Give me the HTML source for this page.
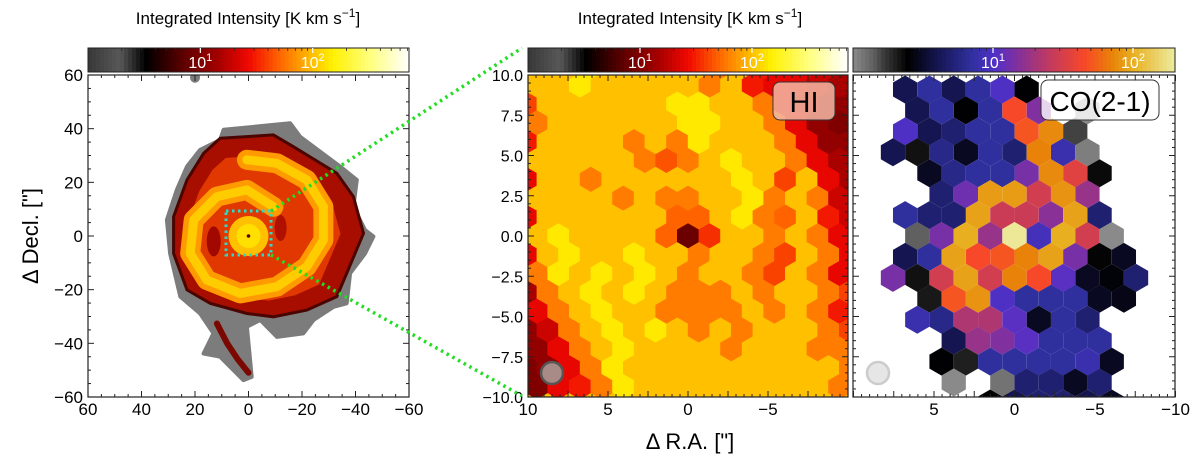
<!DOCTYPE html>
<html><head><meta charset="utf-8"><title>Integrated intensity maps</title>
<style>
html,body{margin:0;padding:0;background:#fff;}
svg{display:block;font-family:"Liberation Sans","DejaVu Sans",sans-serif;}
</style></head>
<body>
<svg id="fig" width="1200" height="464" viewBox="0 0 1200 464" xmlns="http://www.w3.org/2000/svg">
<defs>
<clipPath id="clipL"><rect x="88" y="75" width="321" height="322"/></clipPath>
<clipPath id="clipM"><rect x="528" y="75" width="320" height="322"/></clipPath>
<clipPath id="clipR"><rect x="853" y="75" width="322" height="322"/></clipPath>
</defs>
<text x="248" y="24" font-size="17" text-anchor="middle">Integrated Intensity [K km s<tspan dy="-7" font-size="12">−1</tspan><tspan dy="7">]</tspan></text>
<text x="690" y="24" font-size="17" text-anchor="middle">Integrated Intensity [K km s<tspan dy="-7" font-size="12">−1</tspan><tspan dy="7">]</tspan></text>
<g id="cbars"></g>
<rect x="528" y="75" width="320" height="322" fill="#ffc000"/>
<g id="left" clip-path="url(#clipL)"></g>
<g id="mid" clip-path="url(#clipM)"></g>
<g id="right" clip-path="url(#clipR)"></g>
<g id="axes"></g>
<text transform="translate(38,236) rotate(-90)" font-size="22" text-anchor="middle">Δ Decl. ["]</text>
<text x="690" y="449" font-size="22" text-anchor="middle">Δ R.A. ["]</text>
<rect x="773" y="82" width="62" height="38" rx="7" fill="#f2b8a4" fill-opacity="0.85" stroke="#333" stroke-width="1"/>
<text x="804" y="112" font-size="29" text-anchor="middle">HI</text>
<rect x="1041" y="80" width="118" height="40" rx="7" fill="#fff" fill-opacity="0.8" stroke="#333" stroke-width="1"/>
<text x="1100" y="111" font-size="28" text-anchor="middle">CO(2-1)</text>
<circle cx="552" cy="373" r="11" fill="#a88a86" stroke="#555" stroke-width="2.5"/>
<circle cx="878" cy="373" r="11" fill="#e6e6e6" stroke="#ccc" stroke-width="2.5"/>
<rect x="226" y="211" width="45" height="44" fill="none" stroke="#30d8c8" stroke-width="3" stroke-dasharray="2.5,3.5"/>
<line x1="271" y1="211" x2="522" y2="48" stroke="#22dd22" stroke-width="3.5" stroke-dasharray="2.5,4"/>
<line x1="271" y1="255" x2="522" y2="396" stroke="#22dd22" stroke-width="3.5" stroke-dasharray="2.5,4"/>
</svg>
<script>
// ---------- data ----------
// HI hex grid: rows top->bottom, cols left->right (K km/s)
const hiRows = [
[100,100,100,140,100,100,100,100,100,60,100,30,25,25,20,15,15],
[40,100,100,100,100,100,100,140,140,100,100,60,25,20,12,12,12],
[25,60,100,100,100,100,100,100,140,140,100,100,60,25,12,10,10],
[30,100,100,100,100,60,100,60,140,100,100,100,60,25,12,12,12],
[25,100,100,100,100,100,60,45,60,100,140,100,100,60,25,15,15],
[25,100,100,60,100,100,100,100,100,100,140,100,40,100,25,15,15],
[35,100,100,100,100,60,100,60,60,100,100,140,60,100,60,20,20],
[25,100,100,100,100,100,100,50,50,100,140,60,50,100,30,20,20],
[25,100,140,100,100,100,100,50,8,35,100,100,60,100,60,25,25],
[25,100,140,100,100,140,100,100,60,100,100,60,40,100,60,25,25],
[35,60,140,100,140,100,140,100,60,100,100,60,40,100,60,25,25],
[15,60,100,140,100,140,100,60,60,60,100,60,100,100,60,40,40],
[12,25,60,100,140,100,100,60,60,60,60,100,60,100,60,30,30],
[12,20,60,100,140,100,140,100,60,100,60,100,100,100,60,40,40],
[10,12,25,60,100,140,100,100,100,100,60,100,100,100,60,60,60],
[10,12,25,60,140,100,100,100,100,100,100,100,100,100,100,60,60],
[8,10,25,30,60,140,100,100,100,100,100,100,100,100,100,60,60]
];
// CO(2-1) hex grid rows m=-7..8 (0 = no data)
const coRows = [
[0,4,7,4,7,10,2.5,0,0,0,0,0],
[0,4,7,2.5,7,45,15,0,1,0,0,0],
[0,10,4,5,7,7,50,75,1.6,0,0,0],
[4,2.2,6,3,7,5,70,8,1.1,0,0,0],
[0,0,3,6,7,7,14,75,35,2.3,0,0],
[0,0,5,13,85,85,30,80,18,0,0,0],
[0,7,5,5,90,28,28,16,90,5,0,0],
[0,1.4,14,100,18,190,9,100,30,1,0,0],
[0,4,7,90,45,50,70,90,14,2.4,3,0],
[14,2.2,30,90,30,70,45,11,3,2.6,5,0],
[0,0,2.1,50,80,10,7,7,7,3,2.8,0],
[0,8,6,22,22,11,3,7,5,0,0,0],
[0,0,0,4,18,15,11,7,7,7,0,0],
[0,0,2.5,2,7,7,7,7,8,3,0,0],
[0,0,0,1,0,1.2,5,5,3,5,0,0],
[0,0,0,0,2.5,4,5,5,4,3,0,0]
];
// left map outlines (data coords, arcsec)
const outerX = [9.3,-9.3,-15.6,-19.3,-34.2,-40.5,-39.2,-43.6,-46.7,-43.6,-38,-36.7,-31.8,-24.3,-20.5,-10.6,-4.4,0.6,-1.2,1.9,10.6,16.8,13.1,18.1,25.5,29.3,30.5,26.8,23,18.1,10.6];
const outerY = [39.6,41.4,42,37,25.9,20.9,10.9,2.2,-0.2,-6.5,-13.9,-25.1,-26.4,-31.3,-36.3,-37.6,-31.3,-33.8,-52.5,-53.7,-45,-43.8,-36.3,-28.9,-22.6,-6.5,6,17.2,25.9,32.1,35.8];
const bodyX = [10.6,-9.3,-16.8,-33,-39.2,-43,-36.7,-33,-21.8,-9.3,0.6,14.3,23,28,28,23,16.8];
const bodyY = [36.4,37.7,33.3,23.4,14.7,1,-13.9,-22.6,-27.6,-30.1,-28.9,-25.1,-20.1,-6.5,7.2,20.9,30.8];
const armX = [-9.3,0.6,11.8,20.5,21.8,15.6,3.1,-10.6,-21.8,-28,-28,-21.8,-10.6,0.6];
const armY = [10.9,17.2,14.7,6,-6.5,-16.4,-21.4,-18.9,-11.4,-1.5,10.9,20.9,27.1,28.4];
const tailX = [11.8,8,4,0];
const tailY = [-32.6,-40,-46,-51];
const hiCbTicks = ["10","10"], hiCbExp = ["1","2"], hiCbVals = [10,100];
const coCbTicks = ["10","10"], coCbExp = ["1","2"], coCbVals = [10,100];
const leftTicks = [60,40,20,0,-20,-40,-60];
const midYTicks = [10,7.5,5,2.5,0,-2.5,-5,-7.5,-10];
const midXTicks = [10,5,0,-5];
const rightXTicks = [5,0,-5,-10];

// ---------- helpers ----------
const NS="http://www.w3.org/2000/svg";
function mk(tag,parent,attrs){const e=document.createElementNS(NS,tag);for(const k in attrs)e.setAttribute(k,attrs[k]);parent.appendChild(e);return e;}
function hex2rgb(h){return [parseInt(h.substr(1,2),16),parseInt(h.substr(3,2),16),parseInt(h.substr(5,2),16)];}
function cmap(stops,f){f=Math.max(0,Math.min(1,f));for(let i=1;i<stops.length;i++){if(f<=stops[i][0]){const a=stops[i-1],b=stops[i];const t=(f-a[0])/(b[0]-a[0]);const ca=hex2rgb(a[1]),cb=hex2rgb(b[1]);return "rgb("+ca.map((v,j)=>Math.round(v+(cb[j]-v)*t)).join(",")+")";}}return stops[stops.length-1][1];}
const hotStops=[[0,"#383838"],[0.1,"#585858"],[0.18,"#000000"],[0.3,"#600000"],[0.4,"#a00000"],[0.5,"#f00800"],[0.6,"#ff6800"],[0.7,"#ffc000"],[0.76,"#fff000"],[0.88,"#ffff80"],[1,"#ffffff"]];
const coStops=[[0,"#8a8a8a"],[0.064,"#606060"],[0.09,"#404040"],[0.17,"#000000"],[0.26,"#151550"],[0.37,"#3030a0"],[0.44,"#5030c8"],[0.51,"#8030a0"],[0.61,"#c03a60"],[0.72,"#f84828"],[0.8,"#e88008"],[0.87,"#e8b020"],[1,"#ececa0"]];
const hotMax=Math.log10(720), coMax=2.3;
const hotColor=v=>cmap(hotStops,Math.log10(v)/hotMax);
const coColor=v=>cmap(coStops,Math.log10(v)/coMax);
function hexPts(cx,cy,r){let p=[];for(let i=0;i<6;i++){const a=Math.PI/180*(60*i-90);p.push((cx+r*Math.cos(a)).toFixed(2)+","+(cy+r*Math.sin(a)).toFixed(2));}return p.join(" ");}

// axis scales
const lx=x=>248.5-x*2.675, ly=y=>236-y*2.683;
const mx=x=>528+(10-x)*16, my=y=>75+(10-y)*16.1;
const rx=x=>853.5+(10-x)*16.1, ry=y=>75+(10-y)*16.1;

// ---------- colorbars ----------
const cb=document.getElementById('cbars');
function colorbar(x0,w,stops,vals,tk,ex,maxLog,name){
  const g=mk('g',cb,{});
  
  
  const n=80;
  for(let i=0;i<n;i++){mk('rect',g,{x:x0+i*w/n,y:48,width:w/n+0.6,height:24,fill:cmap(stops,(i+0.5)/n)});}
  mk('rect',g,{x:x0,y:48,width:w,height:24,fill:'none',stroke:'#222','stroke-width':1});
  vals.forEach((v,i)=>{const px=x0+w*Math.log10(v)/maxLog;
    mk('line',g,{x1:px,x2:px,y1:48,y2:53,stroke:'#fff','stroke-width':1.2});
    const t=mk('text',g,{x:px,y:68,'font-size':16,fill:'#fff','text-anchor':'middle'});
    
    
    t.textContent=tk[i];const s=mk('tspan',t,{dy:-7,'font-size':11});s.textContent=ex[i];});
  for(let d=0;d<=Math.floor(maxLog);d++){for(let k=2;k<10;k++){const lv=d+Math.log10(k);if(lv>maxLog)break;const px=x0+w*lv/maxLog;mk('line',g,{x1:px,x2:px,y1:48,y2:51,stroke:'#222','stroke-width':0.8});}}
}
colorbar(88,321,hotStops,hiCbVals,hiCbTicks,hiCbExp,hotMax,'left-colorbar');
colorbar(528,320,hotStops,hiCbVals,hiCbTicks,hiCbExp,hotMax,'hi-colorbar');
colorbar(853,322,coStops,coCbVals,coCbTicks,coCbExp,coMax,'co-colorbar');

// ---------- left map ----------
const L=document.getElementById('left');
const pts=(xs,ys)=>xs.map((x,i)=>lx(x).toFixed(1)+","+ly(ys[i]).toFixed(1)).join(" ");
const outer=mk('polygon',L,{points:pts(outerX,outerY),fill:'#7c7c7c',stroke:'#7c7c7c','stroke-width':4,'stroke-linejoin':'round'});


mk('circle',L,{cx:lx(20),cy:ly(59),r:5,fill:'#7c7c7c'});
const tail=mk('polyline',L,{points:pts(tailX,tailY),fill:'none',stroke:'#7a0800','stroke-width':6,'stroke-linecap':'round'});


const body=mk('polygon',L,{points:pts(bodyX,bodyY),fill:'#a80e00',stroke:'#4a0500','stroke-width':3});


const inner=mk('polygon',L,{points:bodyX.map((x,i)=>lx(x*0.8).toFixed(1)+","+ly(bodyY[i]*0.8).toFixed(1)).join(" "),fill:'#e03800'});


const arm=mk('polyline',L,{points:pts(armX,armY),fill:'none',stroke:'#ff9a00','stroke-width':20,'stroke-linejoin':'round','stroke-linecap':'round'});


mk('polyline',L,{points:pts(armX,armY),fill:'none',stroke:'#ffcc00','stroke-width':9,'stroke-linejoin':'round','stroke-linecap':'round'});
mk('ellipse',L,{cx:lx(13),cy:ly(-2),rx:7,ry:15,fill:'#a00800'});
mk('ellipse',L,{cx:lx(-12),cy:ly(3),rx:6,ry:13,fill:'#b01000'});
const core=mk('circle',L,{cx:lx(0),cy:ly(0),r:20,fill:'#ffc000'});


mk('circle',L,{cx:lx(0),cy:ly(0),r:12,fill:'#ffe000'});
mk('circle',L,{cx:lx(0),cy:ly(0),r:1.8,fill:'#600000'});

// ---------- HI hex map ----------
const M=document.getElementById('mid');
const hiDx=1.35, hiDy=1.17;
hiRows.forEach((row,k)=>{row.forEach((v,j)=>{
  const x=(8-j)*hiDx-((k%2)?hiDx/2:0), y=(8-k)*hiDy;
  const h=mk('polygon',M,{points:hexPts(mx(x),my(y),12.7),fill:hotColor(v)});
  
  
});});
hiRows[0].forEach((v,j)=>{const x=(8-j)*hiDx-hiDx/2,y=9*hiDy;
  const h=mk('polygon',M,{points:hexPts(mx(x),my(y),12.7),fill:hotColor(v)});
  
  });

// ---------- CO hex map ----------
const R=document.getElementById('right');
const coDx=1.51, coDy=1.30;
coRows.forEach((row,k)=>{const m=k-7;const odd=Math.abs(m)%2===1;
  row.forEach((v,i)=>{if(!v)return;
    const n=odd?(i-6+0.5):(i-5);
    const x=-n*coDx, y=-m*coDy;
    const h=mk('polygon',R,{points:hexPts(rx(x),ry(y),14),fill:coColor(v)});
    
    
});});

// ---------- axes ----------
const A=document.getElementById('axes');
function frame(x0,y0,w,h,name){const r=mk('rect',A,{x:x0,y:y0,width:w,height:h,fill:'none',stroke:'#222','stroke-width':1.2});
  }
function ticks(sx,sy,x0,x1,y0,y1,minStep,majStep,range){
  for(let v=-range;v<=range+1e-9;v+=minStep){
    const maj=Math.abs(v/majStep-Math.round(v/majStep))<1e-6;const L1=maj?6:3;
    const px=sx(v),py=sy(v);
    if(px>=x0-0.5&&px<=x1+0.5){mk('line',A,{x1:px,x2:px,y1:y1,y2:y1-L1,stroke:'#222','stroke-width':1});mk('line',A,{x1:px,x2:px,y1:y0,y2:y0+L1,stroke:'#222','stroke-width':1});}
    if(py>=y0-0.5&&py<=y1+0.5){mk('line',A,{x1:x0,x2:x0+L1,y1:py,y2:py,stroke:'#222','stroke-width':1});mk('line',A,{x1:x1,x2:x1-L1,y1:py,y2:py,stroke:'#222','stroke-width':1});}
  }
}
const fmt=v=>(v<0?"−":"")+Math.abs(v);
frame(88,75,321,322,'left-axes');frame(528,75,320,322,'hi-axes');frame(853,75,322,322,'co-axes');
ticks(lx,ly,88,409,75,397,5,20,60);
ticks(mx,my,528,848,75,397,0.5,2.5,10);
ticks(rx,ry,853,1175,75,397,0.5,2.5,10);
leftTicks.forEach(v=>{
  const t=mk('text',A,{x:lx(v),y:415,'font-size':17,'text-anchor':'middle'});t.textContent=fmt(v);
  
  const u=mk('text',A,{x:83,y:ly(v)+6,'font-size':17,'text-anchor':'end'});u.textContent=fmt(v);
  
});
midYTicks.forEach(v=>{const t=mk('text',A,{x:523,y:my(v)+6,'font-size':16,'text-anchor':'end'});t.textContent=(v<0?"−":"")+Math.abs(v).toFixed(1);
  });
midXTicks.forEach(v=>{const t=mk('text',A,{x:mx(v),y:415,'font-size':17,'text-anchor':'middle'});t.textContent=fmt(v);
  });
rightXTicks.forEach(v=>{const t=mk('text',A,{x:rx(v),y:415,'font-size':17,'text-anchor':'middle'});t.textContent=fmt(v);
  });
</script>
</body></html>
